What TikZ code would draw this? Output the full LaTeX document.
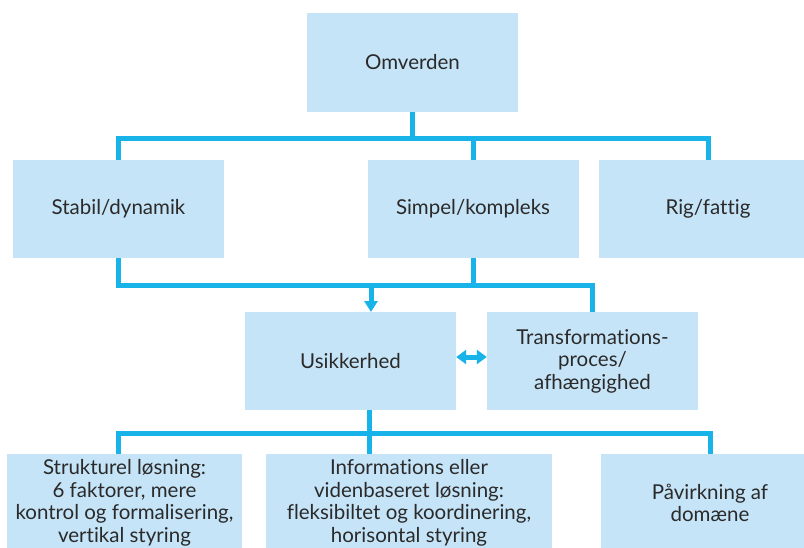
\documentclass[tikz,border=0pt]{standalone}
\usepackage{fontspec}
\setmainfont{Lato}[Ligatures={NoCommon}]
\usetikzlibrary{arrows.meta}
\definecolor{boxfill}{HTML}{C6E4F7}
\definecolor{wire}{HTML}{17B3E9}
\definecolor{ink}{HTML}{2A2A2A}
\begin{document}
\begin{tikzpicture}[x=1pt,y=-1pt,
  box/.style={fill=boxfill, draw=none, text=ink, align=center,
    font=\fontsize{20.5}{22.5}\selectfont, inner sep=0pt, minimum height=98pt},
  wireline/.style={draw=wire, line width=5pt, line join=miter},
  tip/.style={-{Triangle[width=13pt,length=11pt]}},
  twotips/.style={{Triangle[width=14pt,length=10pt]}-{Triangle[width=14pt,length=10pt]}}]
\useasboundingbox (0,0) rectangle (804,547);
\clip (0,0) rectangle (804,547);

% boxes
\node[box, minimum width=211pt, minimum height=99pt] (omv) at (412.5,62.5) {Omverden};
\node[box, minimum width=211pt] (stab) at (118.5,209) {Stabil/dynamik};
\node[box, minimum width=211pt] (simp) at (473,209) {Simpel/kompleks};
\node[box, minimum width=218pt] (rig) at (708,209) {Rig/fattig};
\node[box, minimum width=211pt] (usik) at (350.5,361) {Usikkerhed};
\node[box, minimum width=211pt] (trans) at (592.5,361) {Transformations-\\proces/\\afhængighed};
\node[box, minimum width=235pt] (strukt) at (124.5,503) {Strukturel løsning:\\6 faktorer, mere\\kontrol og formalisering,\\vertikal styring};
\node[box, minimum width=286pt] (info) at (409,503) {Informations eller\\videnbaseret løsning:\\fleksibiltet og koordinering,\\horisontal styring};
\node[box, minimum width=218pt] (pav) at (710,503) {Påvirkning af\\domæne};

% junction rails
\coordinate (tbar) at (0,138);
\coordinate (mbar) at (0,285);
\coordinate (uin) at (371,312);
\coordinate (ubot) at (369,410);
\coordinate (bl) at (118,433);
\coordinate (br) at (710,433);

% top level
\draw[wireline] (omv.south) -- (omv.south |- tbar);
\draw[wireline] (stab.north) -- (stab.north |- tbar) -- (rig.north |- tbar) -- (rig.north);
\draw[wireline] (simp.north |- tbar) -- (simp.north);

% middle level
\draw[wireline] (stab.south) -- (stab.south |- mbar) -- (trans.north |- mbar) -- (trans.north);
\draw[wireline] (simp.south) -- (simp.south |- mbar);
\draw[wireline, tip] (uin |- mbar) -- (uin);
\draw[wireline, twotips] ([yshift=4pt]usik.east) -- ([yshift=4pt]trans.west);

% bottom level
\draw[wireline] (ubot) -- (ubot |- info.north);
\draw[wireline] (bl |- strukt.north) -- (bl) -- (br) -- (pav.north);
\end{tikzpicture}
\end{document}
